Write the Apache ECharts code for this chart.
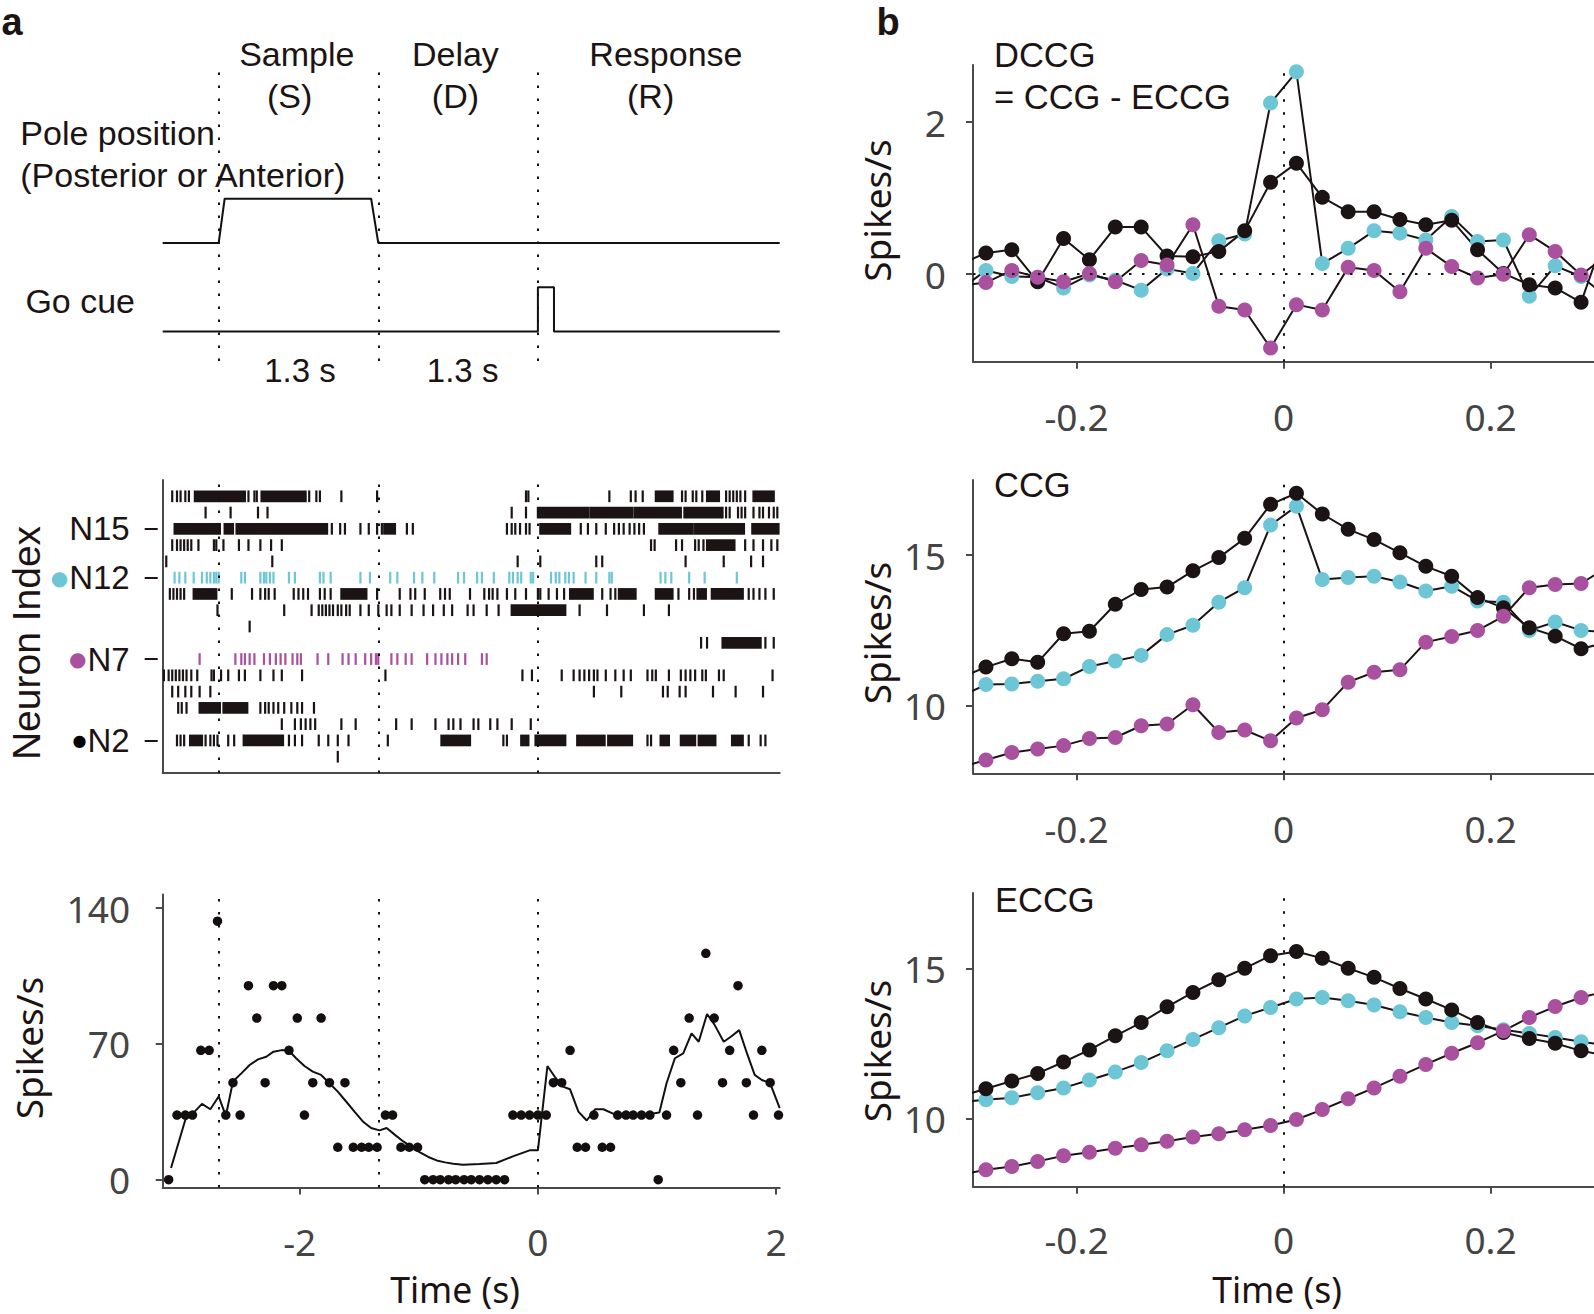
<!DOCTYPE html>
<html><head><meta charset="utf-8">
<script src="https://cdn.jsdelivr.net/npm/echarts@6/dist/echarts.min.js"></script>
<style>html,body{margin:0;padding:0;background:#fff;}#c{width:1594px;height:1314px;}</style>
</head><body><div id="c"></div>
<script>
// ---------------- data ----------------
const epochEdges = [-2.68, -1.34, 0];           // sample start, delay start, go cue (s)
const poleT = [-3.15, -2.68, -2.63, -1.40, -1.34, 2.03];
const poleLevel = [4, 4, 5.5, 5.5, 4, 4];
const goT = [-3.15, 0, 0, 0.135, 0.135, 2.03];
const goLevel = [1, 1, 2.5, 2.5, 1, 1];

// spike times (s); [a,b] = burst too dense to separate
const rasterN17 = [-3.07,-3.03,-3.00,-2.96,-2.93,[-2.88,-2.46],-2.43,-2.38,-2.36,[-2.32,-1.95],-1.92,-1.86,-1.83,-1.65,-1.35,-0.10,-0.08,0.60,0.78,0.82,0.88,[0.99,1.13],1.21,1.24,1.30,1.33,1.38,[1.42,1.52],1.58,1.61,1.64,1.67,1.70,1.74,[1.81,1.98]];
const rasterN16 = [-2.79,-2.58,-2.35,-2.27,-0.22,-0.10,[0.00,0.42],[0.44,0.79],[0.81,1.20],[1.23,1.55],1.58,1.61,1.68,1.71,1.74,1.81,1.86,1.89,1.94,1.98,2.01];
const rasterN15 = [[-3.05,-2.67],[-2.63,-2.56],[-2.53,-1.77],-1.73,-1.66,-1.62,-1.49,-1.42,-1.35,-1.31,[-1.29,-1.20],-1.10,-1.05,-0.26,-0.22,-0.19,-0.15,-0.10,-0.07,[0.02,0.27],0.36,0.42,0.49,0.57,0.64,0.68,0.72,0.77,0.81,0.85,0.89,[1.02,1.30],[1.32,1.73],[1.80,2.02]];
const rasterN14 = [-3.07,-3.03,-3.00,-2.97,-2.94,-2.91,-2.85,-2.72,-2.70,-2.64,-2.51,-2.43,-2.33,-2.24,-2.15,0.95,0.98,1.16,1.21,1.32,1.35,1.39,[1.42,1.65],1.74,1.81,1.89,1.96,2.01];
const rasterN13 = [-3.12,-2.23,-0.17,0.02,0.49,0.54,1.24,1.56,1.79,1.89];
const rasterN12 = [-3.05,-3.01,-2.96,-2.89,-2.82,-2.78,-2.75,-2.72,-2.70,-2.68,-2.49,-2.46,-2.33,-2.30,-2.28,-2.25,-2.22,-2.09,-2.04,-1.83,-1.80,-1.74,-1.49,-1.41,-1.24,-1.18,-1.04,-0.97,-0.87,-0.67,-0.62,-0.51,-0.47,-0.37,-0.24,-0.21,-0.17,-0.14,-0.06,-0.04,0.11,0.15,0.18,0.23,0.26,0.30,0.40,0.49,0.60,0.62,1.03,1.07,1.12,1.27,1.40,1.67];
const rasterN11 = [-3.09,-3.06,-3.03,-3.00,-2.97,[-2.89,-2.70],-2.57,-2.40,-2.33,-2.29,-2.26,-2.21,-2.05,-2.01,-1.97,-1.93,-1.83,-1.79,-1.74,[-1.65,-1.44],-1.35,-1.16,-1.07,-1.03,-0.95,-0.82,-0.78,-0.74,-0.57,-0.45,-0.41,-0.38,-0.34,-0.26,-0.19,-0.10,0.00,0.02,0.09,0.16,0.22,[0.27,0.46],0.54,0.61,0.65,[0.68,0.82],[0.99,1.13],1.18,1.27,1.31,[1.34,1.41],[1.46,1.72],1.77,1.81,1.86,1.91,1.98];
const rasterN10 = [-2.69,-2.13,-1.90,-1.84,-1.81,-1.78,-1.75,-1.72,-1.68,-1.65,-1.61,-1.58,-1.49,-1.42,-1.34,-1.27,-1.23,-1.16,-1.06,-0.96,-0.88,-0.79,-0.72,-0.59,-0.54,-0.43,-0.33,[-0.22,0.23],0.35,0.58,0.89,1.10];
const rasterN9 = [-2.42];
const rasterN8 = [1.37,1.42,[1.55,1.87],1.91,1.98];
const rasterN7 = [-2.84,-2.54,-2.49,-2.46,-2.42,-2.38,-2.30,-2.25,-2.20,-2.16,-2.12,-2.06,-2.02,-1.99,-1.85,-1.76,-1.64,-1.59,-1.53,-1.45,-1.40,-1.36,-1.34,-1.23,-1.18,-1.11,-1.06,-0.93,-0.86,-0.81,-0.76,-0.72,-0.67,-0.61,-0.47,-0.43];
const rasterN6 = [-3.14,-3.10,-3.07,-3.04,-3.01,-2.98,-2.95,-2.91,-2.86,-2.74,-2.72,-2.66,-2.60,-2.51,-2.46,-2.33,-2.22,-2.15,-1.98,-1.28,-0.13,-0.05,0.20,0.30,0.35,0.39,0.43,0.47,0.50,0.57,0.65,0.72,0.78,0.92,0.96,0.99,1.10,1.20,1.24,1.28,1.32,1.38,1.41,1.52,1.56,1.97];
const rasterN5 = [-3.07,-3.02,-2.96,-2.91,-2.84,-2.75,0.47,0.70,1.05,1.09,1.19,1.24,1.47,1.66,1.89];
const rasterN4 = [-3.02,-2.99,-2.95,[-2.84,-2.67],[-2.64,-2.44],-2.33,-2.29,-2.26,-2.22,-2.18,-2.13,-2.07,-2.02,-1.98,-1.88];
const rasterN3 = [-2.15,-2.04,-1.99,-1.95,-1.91,-1.87,-1.65,-1.53,-1.19,-1.06,-0.86,-0.75,-0.71,-0.65,-0.54,-0.50,-0.40,-0.34,-0.22,-0.06];
const rasterN2 = [-3.03,-3.00,-2.97,[-2.92,-2.82],-2.79,-2.75,-2.72,-2.69,-2.60,-2.55,[-2.47,-2.14],-2.09,-2.04,-1.98,-1.84,-1.76,-1.68,-1.59,-1.26,[-0.81,-0.57],-0.29,-0.26,[-0.14,-0.08],[-0.02,0.23],[0.33,0.56],[0.59,0.79],0.92,0.95,[1.03,1.10],[1.20,1.32],[1.35,1.49],[1.63,1.72],1.77,1.87,1.91];
const rasterN1 = [-1.68];
const rasterRows = [rasterN1,rasterN2,rasterN3,rasterN4,rasterN5,rasterN6,rasterN7,rasterN8,rasterN9,rasterN10,rasterN11,rasterN12,rasterN13,rasterN14,rasterN15,rasterN16,rasterN17];
const neuronTicks = [2, 7, 12, 15];
const neuronLabels = ['N2', 'N7', 'N12', 'N15'];

// PSTH of N2 (spikes/s)
const psthT = [-3.10,-3.03,-2.96,-2.90,-2.83,-2.76,-2.69,-2.62,-2.56,-2.50,-2.43,-2.36,-2.29,-2.22,-2.15,-2.09,-2.02,-1.96,-1.89,-1.82,-1.75,-1.68,-1.62,-1.55,-1.48,-1.42,-1.35,-1.28,-1.22,-1.15,-1.08,-1.01,-0.95,-0.88,-0.82,-0.75,-0.69,-0.62,-0.56,-0.49,-0.42,-0.35,-0.28,-0.21,-0.14,-0.07,0.00,0.07,0.13,0.20,0.27,0.33,0.40,0.47,0.54,0.61,0.67,0.74,0.80,0.87,0.94,1.01,1.08,1.14,1.20,1.27,1.34,1.41,1.48,1.55,1.61,1.68,1.75,1.81,1.88,1.95,2.02];
const psthRate = [0,33.3,33.3,33.3,66.7,66.7,133.3,33.3,50,33.3,100,83.3,50,100,100,66.7,83.3,33.3,50,83.3,50,16.7,50,16.7,16.7,16.7,16.7,33.3,33.3,16.7,16.7,16.7,0,0,0,0,0,0,0,0,0,0,0,33.3,33.3,33.3,33.3,33.3,50,50,66.7,16.7,16.7,33.3,16.7,16.7,33.3,33.3,33.3,33.3,33.3,0,33.3,66.7,50,83.3,33.3,116.7,83.3,50,66.7,100,50,33.3,66.7,50,33.3];
const smoothT = [-3.08,-2.96,-2.90,-2.82,-2.75,-2.68,-2.62,-2.56,-2.49,-2.42,-2.35,-2.28,-2.22,-2.15,-2.09,-2.03,-1.96,-1.89,-1.82,-1.75,-1.68,-1.61,-1.54,-1.47,-1.40,-1.33,-1.27,-1.20,-1.13,-1.06,-0.99,-0.92,-0.85,-0.78,-0.71,-0.63,-0.49,-0.35,-0.21,-0.07,0.00,0.08,0.15,0.21,0.27,0.34,0.41,0.48,0.55,0.64,0.72,0.89,1.02,1.08,1.15,1.22,1.29,1.35,1.42,1.48,1.56,1.62,1.69,1.76,1.82,1.88,1.95,2.03];
const smoothRate = [6.0,30.9,33.9,39.1,36.3,42.9,32.9,50.6,54.8,59.1,62.0,63.4,66.0,66.8,66.5,62.6,58.6,55.7,54.0,49.7,45.4,40.3,35.1,30.0,26.6,25.4,26.6,23.1,19.7,16.8,14.1,11.7,9.9,8.9,8.2,7.7,8.1,8.6,12.0,15.1,15.1,58.6,52.3,48.0,46.6,35.1,30.5,36.3,36.3,33.8,33.4,33.4,34.6,49.7,62.6,65.1,75.4,71.1,85.4,80.2,71.1,73.7,77.1,64.3,54.0,51.4,49.7,36.9];
const psthYTicks = [0, 70, 140];
const timeTicks = [-2, 0, 2];

// correlograms: lag bins (s); first/last lie just outside the plotted window
const lagBins = [-0.3125,-0.2875,-0.2625,-0.2375,-0.2125,-0.1875,-0.1625,-0.1375,-0.1125,-0.0875,-0.0625,-0.0375,-0.0125,0.0125,0.0375,0.0625,0.0875,0.1125,0.1375,0.1625,0.1875,0.2125,0.2375,0.2625,0.2875,0.3125];
const dccgN2  = [0.13,0.28,0.32,-0.10,0.47,0.19,0.62,0.62,0.24,0.23,0.30,0.57,1.21,1.46,1.01,0.82,0.82,0.72,0.65,0.71,0.32,0.01,-0.14,-0.18,-0.37,0.60];
const dccgN12 = [-0.20,0.05,-0.03,-0.04,-0.18,-0.01,-0.08,-0.21,0.07,0.01,0.44,0.53,2.25,2.66,0.14,0.34,0.57,0.54,0.45,0.76,0.43,0.45,-0.29,0.11,-0.03,-0.30];
const dccgN7  = [-0.15,-0.11,0.05,-0.04,-0.10,0.01,-0.10,0.18,0.12,0.65,-0.42,-0.47,-0.97,-0.40,-0.47,0.09,0.05,-0.23,0.34,0.10,-0.05,0.00,0.52,0.30,-0.01,0.25];
const ccgN2   = [10.92,11.28,11.56,11.44,12.39,12.47,13.37,13.86,13.94,14.48,14.92,15.56,16.69,17.06,16.37,15.86,15.52,15.08,14.63,14.30,13.59,13.25,12.59,12.31,11.89,12.10];
const ccgN12  = [10.30,10.70,10.72,10.81,10.89,11.30,11.48,11.67,12.36,12.67,13.44,13.92,16.00,16.63,14.19,14.26,14.30,14.11,13.81,13.97,13.48,13.44,12.50,12.78,12.50,12.45];
const ccgN7   = [7.95,8.19,8.44,8.56,8.67,8.91,8.94,9.33,9.39,10.03,9.11,9.19,8.83,9.59,9.86,10.78,11.11,11.19,12.11,12.30,12.50,12.97,13.92,14.03,14.06,14.60];
const eccgN2  = [10.75,11.00,11.26,11.51,11.89,12.29,12.76,13.20,13.72,14.20,14.62,15.00,15.42,15.56,15.33,15.00,14.70,14.33,13.98,13.62,13.20,12.87,12.67,12.51,12.26,12.10];
const eccgN12 = [10.55,10.64,10.70,10.87,11.03,11.29,11.56,11.87,12.26,12.64,13.03,13.42,13.70,13.98,14.03,13.92,13.78,13.56,13.37,13.20,13.09,12.96,12.84,12.70,12.56,12.45];
const eccgN7  = [8.15,8.31,8.42,8.59,8.78,8.89,9.03,9.14,9.26,9.40,9.51,9.64,9.78,9.98,10.31,10.67,11.03,11.42,11.81,12.18,12.53,12.92,13.37,13.73,14.03,14.25];
const lagTicks = [-0.2, 0, 0.2];
const dccgTicks = [0, 2];
const ccgTicks = [10, 15];

// ---------------- styles ----------------
const INK = '#1c1414', CYAN = '#6cc6d5', MAG = '#a9509e', AX = '#4a4a4a', TICKC = '#444';
const LIB = '"Liberation Sans", Arial, Helvetica, sans-serif';
const HUM = '"Noto Sans", "Open Sans", sans-serif';

function dotted(data, dash) {
  return { silent: true, symbol: ['none', 'none'], label: { show: false }, animation: false,
    lineStyle: { type: dash || [2.5, 10.5], color: '#111', width: 2 }, data: data };
}
function xTickAxis(g, min, max, ticks, margin) {
  return { gridIndex: g, type: 'value', min: min, max: max, splitLine: { show: false },
    axisLine: { show: true, onZero: false, lineStyle: { color: AX, width: 2 } },
    axisTick: { show: true, customValues: ticks, length: 7, lineStyle: { color: AX, width: 2 } },
    axisLabel: { customValues: ticks, margin: margin, fontSize: 37, lineHeight: 37, fontFamily: HUM, color: TICKC, formatter: v => String(v) } };
}
function yTickAxis(g, min, max, ticks, margin) {
  return { gridIndex: g, type: 'value', min: min, max: max, splitLine: { show: false },
    axisLine: { show: true, onZero: false, lineStyle: { color: AX, width: 2 } },
    axisTick: { show: true, customValues: ticks, length: 7, lineStyle: { color: AX, width: 2 } },
    axisLabel: { customValues: ticks, margin: margin, fontSize: 37, fontFamily: HUM, color: TICKC, formatter: v => String(v) } };
}
function zip(a, b) { return a.map((v, i) => [v, b[i]]); }
function rasterData(pick) {
  const out = [];
  rasterRows.forEach((row, i) => {
    const n = i + 1;
    if (!pick(n)) return;
    row.forEach(e => { if (Array.isArray(e)) out.push([n, e[0], e[1]]); else out.push([n, e, e]); });
  });
  return out;
}
function renderSpike(params, api) {
  const n = api.value(0), a = api.value(1), b = api.value(2);
  const p0 = api.coord([a, n]), p1 = api.coord([b, n]);
  const h = api.size([0, 0.72])[1];
  const w = Math.max(2.2, p1[0] - p0[0] + 2.2);
  return { type: 'rect', shape: { x: p0[0] - 1.1, y: p0[1] - h / 2, width: w, height: h }, style: { fill: api.visual('color') } };
}
function rasterSeries(pick, color, extra) {
  return Object.assign({ type: 'custom', xAxisIndex: 1, yAxisIndex: 1, renderItem: renderSpike,
    encode: { x: [1, 2], y: 0 }, itemStyle: { color: color }, data: rasterData(pick), silent: true }, extra || {});
}
function ccgSeries(xi, yi, vals, color, extra) {
  return Object.assign({ type: 'line', xAxisIndex: xi, yAxisIndex: yi, data: zip(lagBins, vals),
    symbol: 'circle', symbolSize: 15, showSymbol: true, clip: true, silent: true,
    itemStyle: { color: color, borderWidth: 0 }, lineStyle: { color: INK, width: 2 } }, extra || {});
}
function txt(text, x, y, o) {
  o = o || {};
  const size = o.size || 34;
  return { type: 'text', x: x, y: y, rotation: o.rot || 0, silent: true,
    style: { text: text, fontSize: size, lineHeight: size, fontFamily: o.font || LIB, fontWeight: o.weight || 'normal',
      fill: o.fill || INK, align: o.align || 'center', verticalAlign: 'middle' } };
}

const vEpochs = epochEdges.map(t => ({ xAxis: t }));

const option = {
  animation: false,
  grid: [
    { left: 162.7, width: 617, top: 66, height: 295 },
    { left: 162.7, width: 617, top: 480, height: 293 },
    { left: 162.7, width: 617, top: 894.6, height: 292.8 },
    { left: 973, width: 621, top: 65, height: 296.7 },
    { left: 973, width: 621, top: 480, height: 293.3 },
    { left: 973, width: 621, top: 893, height: 293.7 }
  ],
  xAxis: [
    { gridIndex: 0, type: 'value', min: -3.15, max: 2.03, show: false },
    { gridIndex: 1, type: 'value', min: -3.15, max: 2.03, splitLine: { show: false },
      axisLine: { show: true, onZero: false, lineStyle: { color: AX, width: 2 } }, axisTick: { show: false }, axisLabel: { show: false } },
    xTickAxis(2, -3.15, 2.03, timeTicks, 36),
    xTickAxis(3, -0.3, 0.3, lagTicks, 36.5),
    xTickAxis(4, -0.3, 0.3, lagTicks, 36.5),
    xTickAxis(5, -0.3, 0.3, lagTicks, 34)
  ],
  yAxis: [
    { gridIndex: 0, type: 'value', min: 0, max: 10, show: false },
    { gridIndex: 1, type: 'value', min: 0, max: 18, position: 'left', offset: 5, splitLine: { show: false },
      axisLine: { show: false, onZero: false },
      axisTick: { show: true, customValues: neuronTicks, length: 13, lineStyle: { color: INK, width: 2 } },
      axisLabel: { customValues: neuronTicks, margin: 28,
        formatter: v => {
          const lab = neuronLabels[neuronTicks.indexOf(v)];
          if (v === 12) return '{cy|●}{t|' + lab + '}';
          if (v === 7) return '{mg|●}{t|' + lab + '}';
          if (v === 2) return '{bk|●}{t|' + lab + '}';
          return '{t|' + lab + '}';
        },
        rich: {
          t: { fontSize: 33, fontFamily: LIB, color: INK, verticalAlign: 'middle' },
          cy: { fontSize: 20, fontFamily: '"DejaVu Sans", sans-serif', color: CYAN, verticalAlign: 'middle', padding: [0, 1, 0, 0] },
          mg: { fontSize: 20, fontFamily: '"DejaVu Sans", sans-serif', color: MAG, verticalAlign: 'middle', padding: [0, 1, 0, 0] },
          bk: { fontSize: 16, fontFamily: '"DejaVu Sans", sans-serif', color: '#000', verticalAlign: 'middle', padding: [0, 1, 0, 0] }
        } } },
    { gridIndex: 1, type: 'value', min: 0, max: 18, position: 'left', splitLine: { show: false },
      axisLine: { show: true, onZero: false, lineStyle: { color: AX, width: 2 } }, axisTick: { show: false }, axisLabel: { show: false } },
    yTickAxis(2, -4, 147, psthYTicks, 32.6),
    yTickAxis(3, -1.15, 2.75, dccgTicks, 27),
    yTickAxis(4, 7.75, 17.5, ccgTicks, 27),
    yTickAxis(5, 7.75, 17.5, ccgTicks, 27)
  ],
  series: [
    { type: 'line', xAxisIndex: 0, yAxisIndex: 0, data: zip(poleT, poleLevel), symbol: 'none', silent: true,
      lineStyle: { color: '#111', width: 2 }, markLine: dotted(vEpochs) },
    { type: 'line', xAxisIndex: 0, yAxisIndex: 0, data: zip(goT, goLevel), symbol: 'none', silent: true,
      lineStyle: { color: '#111', width: 2 } },
    rasterSeries(n => n !== 12 && n !== 7, INK, { markLine: dotted(vEpochs) }),
    rasterSeries(n => n === 12, CYAN),
    rasterSeries(n => n === 7, MAG),
    { type: 'line', xAxisIndex: 2, yAxisIndex: 3, data: zip(smoothT, smoothRate), symbol: 'none', silent: true,
      lineStyle: { color: '#111', width: 2 }, markLine: dotted(vEpochs) },
    { type: 'scatter', xAxisIndex: 2, yAxisIndex: 3, data: zip(psthT, psthRate), symbol: 'circle', symbolSize: 9.5, silent: true,
      itemStyle: { color: '#140e0e', opacity: 1 } },
    ccgSeries(3, 4, dccgN12, CYAN, { markLine: dotted([{ xAxis: 0 }, { yAxis: 0 }]) }),
    ccgSeries(3, 4, dccgN2, INK),
    ccgSeries(3, 4, dccgN7, MAG),
    ccgSeries(4, 5, ccgN12, CYAN, { markLine: dotted([{ xAxis: 0 }]) }),
    ccgSeries(4, 5, ccgN2, INK),
    ccgSeries(4, 5, ccgN7, MAG),
    ccgSeries(5, 6, eccgN12, CYAN, { markLine: dotted([{ xAxis: 0 }]) }),
    ccgSeries(5, 6, eccgN2, INK),
    ccgSeries(5, 6, eccgN7, MAG)
  ],
  graphic: { elements: [
    txt('a', 12, 22, { size: 38, weight: 'bold' }),
    txt('b', 888, 22, { size: 38, weight: 'bold' }),
    txt('Sample', 296.8, 53.5),
    txt('(S)', 289.7, 96),
    txt('Delay', 455.4, 53.5),
    txt('(D)', 455.4, 96),
    txt('Response', 665.9, 53.5),
    txt('(R)', 650.6, 96),
    txt('Pole position', 20.3, 132.5, { align: 'left' }),
    txt('(Posterior or Anterior)', 20.3, 174.5, { align: 'left' }),
    txt('Go cue', 25.4, 300.5, { align: 'left' }),
    txt('1.3 s', 299.9, 370, { size: 33 }),
    txt('1.3 s', 462.6, 370, { size: 33 }),
    txt('DCCG', 994, 54.5, { align: 'left', size: 34.5 }),
    txt('= CCG - ECCG', 994, 96.5, { align: 'left', size: 34.5 }),
    txt('CCG', 994, 485, { align: 'left', size: 34.5 }),
    txt('ECCG', 995, 899.5, { align: 'left', size: 34.5 }),
    txt('Neuron Index', 26.5, 643, { rot: Math.PI / 2, size: 39 }),
    txt('Spikes/s', 28, 1048, { rot: Math.PI / 2, size: 37, font: HUM }),
    txt('Spikes/s', 876, 210.5, { rot: Math.PI / 2, size: 37, font: HUM }),
    txt('Spikes/s', 876, 633, { rot: Math.PI / 2, size: 37, font: HUM }),
    txt('Spikes/s', 876, 1051, { rot: Math.PI / 2, size: 37, font: HUM }),
    txt('Time (s)', 455, 1289, { size: 35.5, font: HUM }),
    txt('Time (s)', 1277, 1289, { size: 35.5, font: HUM })
  ] }
};

const chart = echarts.init(document.getElementById('c'), null, { renderer: 'svg', width: 1594, height: 1314 });
chart.setOption(option);
</script></body></html>
